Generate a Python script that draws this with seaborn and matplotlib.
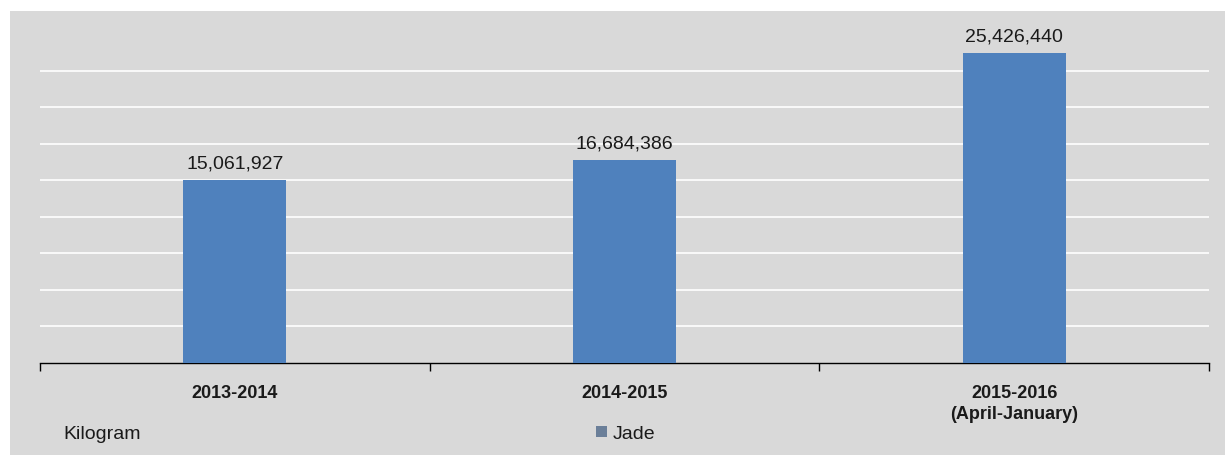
import matplotlib
matplotlib.use("Agg")
import matplotlib.pyplot as plt
import seaborn as sns
import pandas as pd
from matplotlib.patches import Rectangle, Patch

categories = ["2013-2014", "2014-2015", "2015-2016\n(April-January)"]
values = [15061927, 16684386, 25426440]
series_name = "Jade"
unit_label = "Kilogram"

sns.set_theme(style="white")
plt.rcParams['font.family'] = ['Liberation Sans', 'DejaVu Sans']

BG = "#d9d9d9"
BAR = "#4f81bd"

fig = plt.figure(figsize=(12.25, 4.56), dpi=100)
fig.patch.set_facecolor("white")
fig.patches.append(Rectangle((10/1225, 0), 1 - 10/1225, (456 - 12)/456,
                             transform=fig.transFigure, facecolor=BG,
                             edgecolor="none", zorder=-10))

ax = fig.add_axes([40/1225, 92/456, (1209-40)/1225, (364-29)/456])
ax.set_zorder(1)
ax.set_facecolor(BG)

df = pd.DataFrame({"cat": categories, "val": values})
sns.barplot(data=df, x="cat", y="val", color=BAR, saturation=1, width=0.264,
            linewidth=0, edgecolor="none", ax=ax, zorder=3)

ax.set_xlim(-0.5, 2.5)
ax.set_ylim(0, 27.5e6)
ax.set_yticks([3e6*i for i in range(1, 9)])
ax.yaxis.grid(True, color="white", linewidth=1.2, zorder=1)
ax.set_axisbelow(True)
ax.tick_params(axis="y", left=False, labelleft=False)
ax.set_xlabel("")
ax.set_ylabel("")

for s in ["top", "right", "left"]:
    ax.spines[s].set_visible(False)
ax.spines["bottom"].set_color("black")
ax.spines["bottom"].set_linewidth(1.0)

ax.set_xticks([0, 1, 2])
ax.set_xticklabels(categories, fontsize=13, fontweight="bold", linespacing=1.35)
ax.tick_params(axis="x", which="major", length=0, pad=15, colors="#1a1a1a")
ax.set_xticks([-0.5, 0.5, 1.5, 2.5], minor=True)
ax.tick_params(axis="x", which="minor", bottom=True, length=6, width=1, color="black", direction="out")

for c in ax.containers:
    ax.bar_label(c, labels=[f"{v:,.0f}" for v in values], padding=6, fontsize=14, color="#1a1a1a")

fig.text(63/1225, 1 - 435/456, unit_label, fontsize=14, va="center", ha="left", color="#1a1a1a")
ax.legend(handles=[Patch(facecolor="#6b7f99", edgecolor="none", label=series_name)],
          loc="center", bbox_to_anchor=(626/1225, 1 - 435/456), bbox_transform=fig.transFigure,
          frameon=False, fontsize=14, handlelength=0.55, handleheight=0.55, handletextpad=0.3,
          labelcolor="#1a1a1a")

fig.savefig("out.png", dpi=100, facecolor="white")
